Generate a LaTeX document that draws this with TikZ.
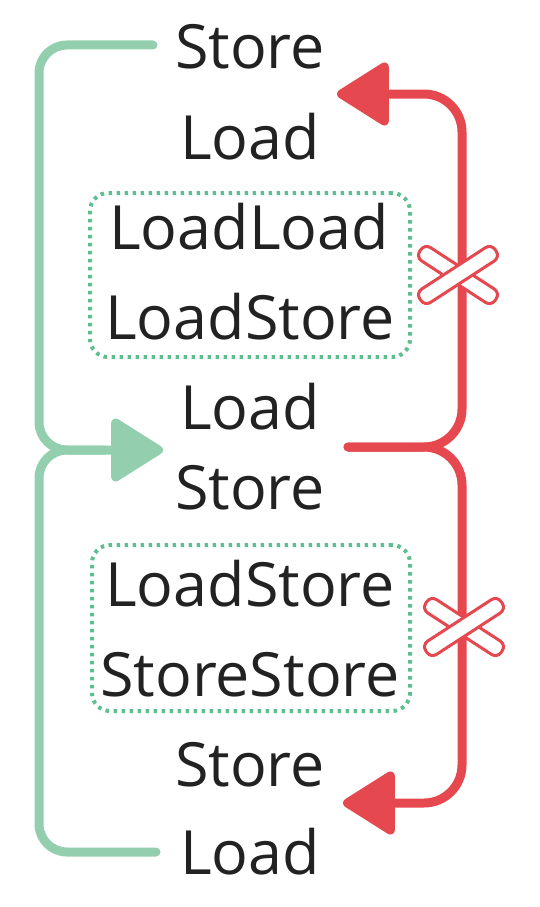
\documentclass[tikz,border=0pt]{standalone}
\usepackage{fontspec}
\setmainfont{Open Sans}
\usetikzlibrary{arrows.meta,calc}
\definecolor{gline}{HTML}{93CFAE}
\definecolor{gdot}{HTML}{5DBE8F}
\definecolor{rline}{HTML}{E5484F}
\definecolor{txt}{HTML}{222222}
\begin{document}
\begin{tikzpicture}[x=1pt,y=-1pt,
  lbl/.style={anchor=base,inner sep=0pt,text=txt,font=\fontsize{61}{61}\selectfont},
  grp/.style={draw=gdot,line width=4pt,dash pattern=on 3.5pt off 4.5pt,rounded corners=18pt},
  gconn/.style={draw=gline,line width=9pt,line cap=round,rounded corners=28pt},
  rconn/.style={draw=rline,line width=9pt,line cap=round,rounded corners=38pt},
  gtip/.style={-{Triangle[length=56pt,width=68pt,round]}},
  xbar/.style={draw=rline,fill=white,line width=3pt,rounded corners=7pt},
]
\useasboundingbox (0,0) rectangle (539,907);
% text rows
\node[lbl] (s1)  at (250,69) {Store};
\node[lbl] (l1)  at (250,159) {Load};
\node[lbl] (ll)  at (249,249) {LoadLoad};
\node[lbl] (ls1) at (250,339) {LoadStore};
\node[lbl] (l2)  at (250,429) {Load};
\node[lbl] (s2)  at (250,509) {Store};
\node[lbl] (ls2) at (250,606) {LoadStore};
\node[lbl] (ss)  at (250,696) {StoreStore};
\node[lbl] (s3)  at (250,786) {Store};
\node[lbl] (l3)  at (250,874) {Load};
% dotted groups
\node[grp,minimum width=320pt,minimum height=164pt] (g1) at (250,275) {};
\node[grp,minimum width=318pt,minimum height=166pt] (g2) at (251,628) {};
% green connectors
\coordinate (gs1) at (153,45);
\coordinate (gl3) at (156,852);
\coordinate (gin) at (163,450);
\coordinate (gjn) at (105,450);
\draw[gconn] (gl3) -- (39,852) -- (39,450) -- (gjn);
\draw[gconn,gtip] (gs1) -- (39,45) -- (39,450) -- (gin);
% red connectors
\coordinate (rst) at (348,447);
\coordinate (rtop) at (337,94);
\coordinate (rbot) at (343,803);
\draw[rconn,gtip] (rst) -- (462,447) -- (462,94) -- (rtop);
\draw[rconn,gtip] (rst) -- (462,447) -- (462,803) -- (rbot);
% crosses
\foreach \cx/\cy/\nm in {458/275/xa,464/627/xb}{
  \node[xbar,minimum width=90pt,minimum height=16pt,rotate=-33] (\nm1) at (\cx,\cy) {};
  \node[xbar,minimum width=90pt,minimum height=16pt,rotate=33] (\nm2) at (\cx,\cy) {};
}
\end{tikzpicture}
\end{document}
